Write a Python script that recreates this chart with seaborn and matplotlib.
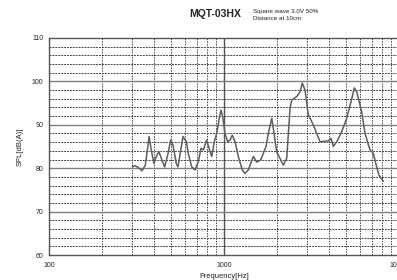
import numpy as np
import pandas as pd
import matplotlib
matplotlib.use("Agg")
import matplotlib.pyplot as plt
import seaborn as sns
from matplotlib.ticker import FixedLocator, NullFormatter

freq_hz = [300, 309, 323, 340, 355, 365, 373, 384, 398, 410, 425, 438, 458, 479,
           496, 511, 534, 546, 566, 583, 609, 625, 654, 683, 713, 739, 762, 796,
           821, 851, 880, 908, 936, 961, 983, 1013, 1050, 1082, 1115, 1156, 1207,
           1272, 1318, 1377, 1471, 1538, 1621, 1738, 1791, 1874, 1913, 2000, 2183,
           2283, 2384, 2437, 2603, 2719, 2802, 2904, 3032, 3238, 3537, 3945, 4088,
           4214, 4406, 4706, 5025, 5318, 5555, 5733, 6122, 6393, 6829, 7131, 7457,
           7686, 8133]
spl_db = [80.3, 80.6, 80.2, 79.4, 80.7, 84.2, 87.3, 84.2, 81.1, 82.7, 83.8, 82.3,
          80.3, 83.4, 86.5, 85.3, 81.1, 80.3, 84.2, 87.3, 86.1, 83.4, 80.3, 79.6,
          81.5, 84.6, 84.2, 86.5, 84.6, 82.7, 86.1, 88.0, 91.1, 93.4, 91.9, 88.0,
          86.1, 86.5, 87.6, 86.1, 82.7, 79.6, 78.8, 79.6, 82.7, 81.4, 81.9, 85.0,
          88.0, 91.5, 89.2, 83.8, 80.7, 82.3, 93.8, 95.7, 96.5, 97.6, 99.6, 98.0,
          92.3, 90.0, 86.1, 86.3, 86.9, 85.0, 86.1, 88.4, 91.5, 95.3, 98.5, 97.6,
          93.0, 88.0, 84.2, 83.4, 80.3, 78.4, 77.0]

x_ticks = [100, 1000, 10000]
x_tick_labels = ["100", "1000", "10000"]
y_ticks = [60, 70, 80, 90, 100, 110]

title = "MQT-03HX"
note_lines = ["Square wave 3.0V 50%", "Distance at 10cm"]

df = pd.DataFrame({"freq": freq_hz, "spl": spl_db})

sns.set_style("white")
plt.rcParams["font.family"] = ["Liberation Sans", "DejaVu Sans"]

fig = plt.figure(figsize=(3.97, 2.80), dpi=100)
ax = fig.add_axes([49 / 397, 25 / 280, 350 / 397, 217 / 280])

ax.set_xscale("log")
ax.set_xlim(100, 10000)
ax.set_ylim(60, 110)

# grid
minor_x = [m * d for d in (100, 1000) for m in range(2, 10)]
for xv in minor_x:
    ax.axvline(xv, color="#444444", lw=0.7, ls=(0, (1.5, 1.2)), zorder=1)
ax.axvline(1000, color="#555555", lw=1.0, zorder=1)
minor_y = [v for v in range(62, 110, 2) if v % 10 != 0]
for yv in minor_y:
    ax.axhline(yv, color="#444444", lw=0.7, ls=(0, (2.0, 1.0)), zorder=1)
for yv in [70, 80, 90, 100]:
    ax.axhline(yv, color="#808080", lw=1.0, zorder=1)

sns.lineplot(data=df, x="freq", y="spl", ax=ax, color="#5e5e5e", lw=1.1,
             zorder=3, legend=False)

ax.xaxis.set_major_locator(FixedLocator(x_ticks))
ax.set_xticklabels(x_tick_labels)
ax.xaxis.set_minor_locator(FixedLocator([]))
ax.xaxis.set_minor_formatter(NullFormatter())
ax.set_yticks(y_ticks)
ax.set_yticklabels([str(v) for v in y_ticks])
ax.tick_params(axis="both", length=0, labelsize=5, colors="#222222")
ax.tick_params(axis="x", pad=5)
ax.tick_params(axis="y", pad=4)

ax.set_xlabel("Frequency[Hz]", fontsize=5.5, color="#222222", labelpad=3)
ax.set_ylabel("SPL[dB(A)]", fontsize=5.5, color="#222222", labelpad=6)

for s in ["left", "bottom", "top"]:
    ax.spines[s].set_color("#555555")
    ax.spines[s].set_linewidth(1.0)
ax.spines["right"].set_visible(False)

fig.text(215 / 397, 1 - 14 / 280, title, fontsize=7.5, fontweight="bold",
         ha="center", va="center", color="#222222")
fig.text(253 / 397, 1 - 11 / 280, note_lines[0], fontsize=4.5, ha="left",
         va="center", color="#222222")
fig.text(253 / 397, 1 - 19 / 280, note_lines[1], fontsize=4.5, ha="left",
         va="center", color="#222222")

fig.savefig("out.png", dpi=100, facecolor="white")
